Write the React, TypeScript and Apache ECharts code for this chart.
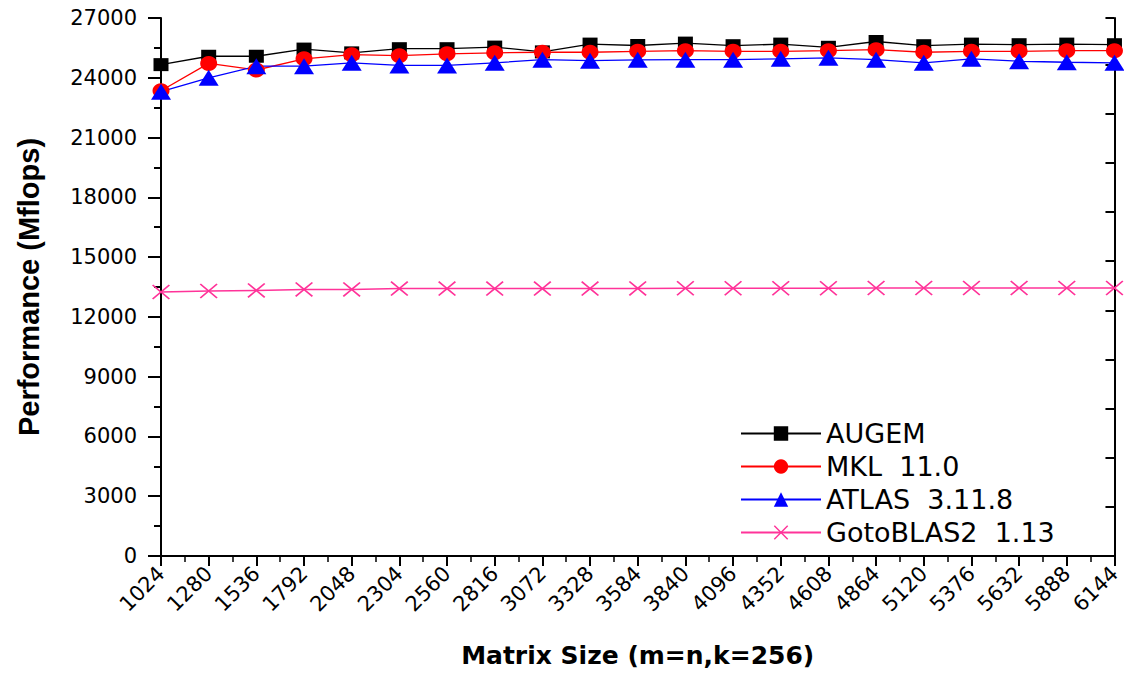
import React, { useEffect, useRef } from "react";
import * as echarts from "echarts";

const sizes = [1024, 1280, 1536, 1792, 2048, 2304, 2560, 2816, 3072, 3328, 3584, 3840, 4096, 4352, 4608, 4864, 5120, 5376, 5632, 5888, 6144];
const augem = [24660, 25080, 25080, 25440, 25250, 25460, 25460, 25540, 25300, 25690, 25620, 25740, 25610, 25690, 25530, 25820, 25610, 25690, 25660, 25690, 25660];
const mkl = [23350, 24720, 24390, 24950, 25160, 25110, 25200, 25250, 25280, 25280, 25330, 25360, 25330, 25330, 25360, 25410, 25280, 25330, 25330, 25360, 25360];
const atlas = [23300, 24000, 24580, 24580, 24750, 24620, 24620, 24750, 24910, 24860, 24900, 24910, 24910, 24950, 25000, 24910, 24750, 24950, 24830, 24780, 24750];
const goto = [13250, 13300, 13330, 13380, 13380, 13420, 13420, 13420, 13420, 13420, 13430, 13440, 13440, 13440, 13440, 13450, 13450, 13450, 13450, 13450, 13450];
const seriesNames = ["AUGEM", "MKL  11.0", "ATLAS  3.11.8", "GotoBLAS2  1.13"];

const crossPath =
  "path://M0,1.4 L1.4,0 L10,8.6 L18.6,0 L20,1.4 L11.4,10 L20,18.6 L18.6,20 L10,11.4 L1.4,20 L0,18.6 L8.6,10 Z";

export default function App() {
  const ref = useRef<HTMLDivElement>(null);
  useEffect(() => {
    if (!ref.current) return;
    const chart = echarts.init(ref.current, null, { renderer: "svg" });
    const pts = (vals: number[]) => sizes.map((s, i) => [s, vals[i]]);
    const axisLineStyle = { color: "#000", width: 2 };
    chart.setOption({
      animation: false,
      backgroundColor: "#fff",
      grid: { left: 161, right: 6, top: 18, bottom: 111, containLabel: false },
      legend: {
        orient: "vertical",
        left: 735,
        top: 415,
        itemWidth: 80,
        itemHeight: 18,
        itemGap: 6,
        data: seriesNames,
        textStyle: { fontSize: 27, fontFamily: "DejaVu Sans", color: "#000", lineHeight: 26 },
      },
      xAxis: [
        {
          type: "value",
          position: "bottom",
          min: 1024,
          max: 6144,
          interval: 256,
          axisLine: { show: true, lineStyle: axisLineStyle },
          axisTick: { show: true, inside: false, length: 10, lineStyle: { color: "#000", width: 2 } },
          minorTick: { show: true, splitNumber: 2, length: 6, lineStyle: { color: "#000", width: 1.5 } },
          splitLine: { show: false },
          minorSplitLine: { show: false },
          axisLabel: {
            rotate: 45,
            fontSize: 21,
            fontFamily: "DejaVu Sans",
            color: "#000",
            margin: 14,
            formatter: (v: number) => String(v),
          },
          name: "Matrix Size (m=n,k=256)",
          nameLocation: "middle",
          nameGap: 87,
          nameTextStyle: { fontSize: 25, fontWeight: "bold", fontFamily: "DejaVu Sans", color: "#000" },
        },
        {
          type: "value",
          position: "top",
          min: 1024,
          max: 6144,
          interval: 1024,
          axisLine: { show: true, lineStyle: axisLineStyle },
          axisTick: { show: true, inside: true, length: 10, lineStyle: { color: "#000", width: 2 } },
          minorTick: { show: true, splitNumber: 2, length: 5, lineStyle: { color: "#000", width: 1.5 } },
          splitLine: { show: false },
          axisLabel: { show: false },
        },
      ],
      yAxis: [
        {
          type: "value",
          position: "left",
          min: 0,
          max: 27000,
          interval: 3000,
          axisLine: { show: true, lineStyle: axisLineStyle },
          axisTick: { show: true, inside: false, length: 13, lineStyle: { color: "#000", width: 2 } },
          minorTick: { show: true, splitNumber: 2, length: 7, lineStyle: { color: "#000", width: 2 } },
          splitLine: { show: false },
          minorSplitLine: { show: false },
          axisLabel: {
            fontSize: 21,
            fontFamily: "DejaVu Sans",
            color: "#000",
            margin: 24,
            formatter: (v: number) => String(v),
          },
          name: "Performance (Mflops)",
          nameLocation: "middle",
          nameGap: 118,
          nameTextStyle: { fontSize: 29, fontWeight: "bold", fontFamily: "Liberation Sans", color: "#000" },
        },
        {
          type: "value",
          position: "right",
          min: 0,
          max: 10.95,
          interval: 1,
          alignTicks: false,
          axisLine: { show: true, lineStyle: axisLineStyle },
          axisTick: { show: true, inside: true, length: 9, lineStyle: { color: "#000", width: 2 } },
          splitLine: { show: false },
          axisLabel: { show: false },
        },
      ],
      series: [
        {
          name: seriesNames[0],
          type: "line",
          data: pts(augem),
          symbol: "rect",
          symbolSize: [15, 13],
          itemStyle: { color: "#000" },
          lineStyle: { color: "#000", width: 1.3 },
        },
        {
          name: seriesNames[1],
          type: "line",
          data: pts(mkl),
          symbol: "circle",
          symbolSize: [17, 15],
          itemStyle: { color: "#ff0000" },
          lineStyle: { color: "#ff0000", width: 1.3 },
        },
        {
          name: seriesNames[2],
          type: "line",
          data: pts(atlas),
          symbol: "triangle",
          symbolSize: [20, 16],
          itemStyle: { color: "#0000ff" },
          lineStyle: { color: "#0000ff", width: 1.3 },
        },
        {
          name: seriesNames[3],
          type: "line",
          data: pts(goto),
          symbol: crossPath,
          symbolSize: [18, 15],
          itemStyle: { color: "#ff3399" },
          lineStyle: { color: "#ff3399", width: 1.5 },
        },
      ],
    });
    return () => chart.dispose();
  }, []);
  return (
    <div
      ref={ref}
      style={{ position: "fixed", left: 0, top: 0, width: 1124, height: 673, background: "#fff" }}
    />
  );
}
